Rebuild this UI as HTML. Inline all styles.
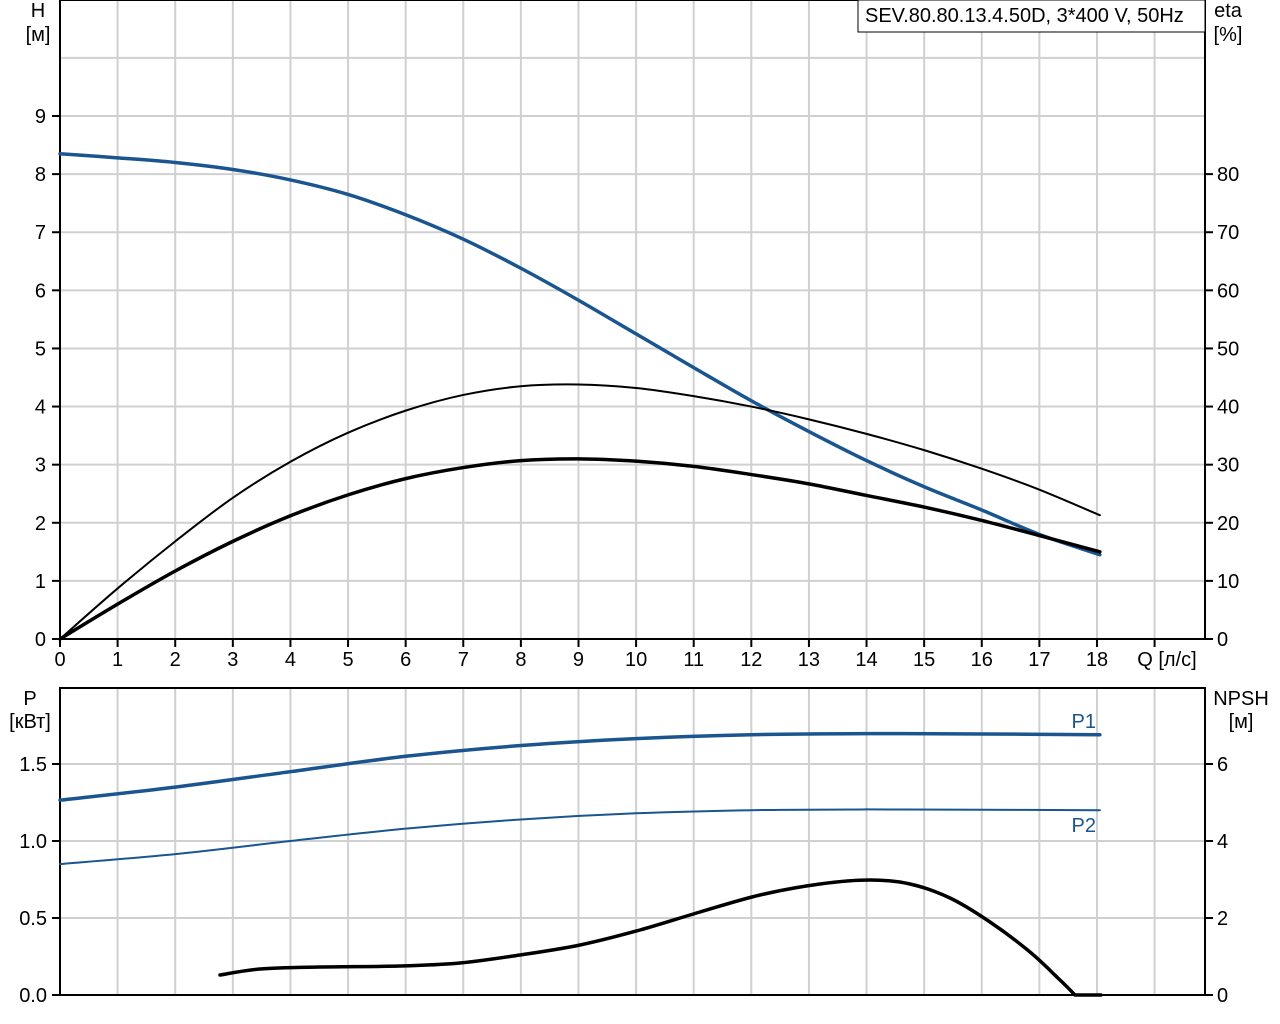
<!DOCTYPE html>
<html><head><meta charset="utf-8"><style>
html,body{margin:0;padding:0;background:#fff;}
svg{display:block;font-family:"Liberation Sans",Arial,sans-serif;}
</style></head><body>
<svg id="s" width="1280" height="1024" viewBox="0 0 1280 1024" xmlns="http://www.w3.org/2000/svg">
<g id="grid" stroke="#d0d0d0" stroke-width="2" fill="none"></g>
<g id="axes" stroke="#000" stroke-width="2" fill="none">
<rect x="60" y="0" width="1145" height="639"/>
<rect x="60" y="688" width="1145" height="307"/>
</g>
<g id="ticks" stroke="#000" stroke-width="2"></g>
<g id="labels" font-size="20" fill="#000"></g>
<g id="curves" fill="none" stroke-linecap="round" stroke-linejoin="round"></g>
<rect x="858" y="0" width="347" height="32" fill="#fff" stroke="#000" stroke-width="1"/>
<text x="865" y="22" font-size="20">SEV.80.80.13.4.50D, 3*400 V, 50Hz</text>
<text x="38" y="17" font-size="20" text-anchor="middle">H</text>
<text x="38" y="41" font-size="20" text-anchor="middle">[м]</text>
<text x="1228" y="17" font-size="20" text-anchor="middle">eta</text>
<text x="1228" y="41" font-size="20" text-anchor="middle">[%]</text>
<text x="30" y="705" font-size="20" text-anchor="middle">P</text>
<text x="30" y="728" font-size="20" text-anchor="middle">[кВт]</text>
<text x="1241" y="705" font-size="20" text-anchor="middle">NPSH</text>
<text x="1241" y="728" font-size="20" text-anchor="middle">[м]</text>
<text x="1167" y="666" font-size="20" text-anchor="middle">Q [л/с]</text>
<text x="1096" y="728" font-size="20" fill="#1a5590" text-anchor="end">P1</text>
<text x="1096" y="832" font-size="20" fill="#1a5590" text-anchor="end">P2</text>
</svg>
<script>
const NS="http://www.w3.org/2000/svg";
function el(p,t,a,txt){const e=document.createElementNS(NS,t);for(const k in a)e.setAttribute(k,a[k]);if(txt!==undefined)e.textContent=txt;document.getElementById(p).appendChild(e);return e;}
const X=q=>60+q*57.61, HY=h=>639-h*58.11, PY=p=>995-p*154;
for(let q=1;q<=19;q++){el('grid','line',{x1:X(q),y1:0,x2:X(q),y2:639});el('grid','line',{x1:X(q),y1:688,x2:X(q),y2:995});}
for(let h=1;h<=10;h++)el('grid','line',{x1:60,y1:HY(h),x2:1205,y2:HY(h)});
for(let p=0.5;p<=1.5;p+=0.5)el('grid','line',{x1:60,y1:PY(p),x2:1205,y2:PY(p)});
for(let q=0;q<=19;q++){el('ticks','line',{x1:X(q),y1:639,x2:X(q),y2:647});if(q<=18)el('labels','text',{x:X(q),y:666,'text-anchor':'middle'},q);}
for(let h=0;h<=9;h++){el('ticks','line',{x1:52,y1:HY(h),x2:60,y2:HY(h)});el('labels','text',{x:46,y:HY(h)+7,'text-anchor':'end'},h);}
for(let e=0;e<=8;e++){el('ticks','line',{x1:1205,y1:HY(e),x2:1213,y2:HY(e)});el('labels','text',{x:1217,y:HY(e)+7},e*10);}
[["0.0",0],["0.5",.5],["1.0",1],["1.5",1.5]].forEach(([t,p])=>{el('ticks','line',{x1:52,y1:PY(p),x2:60,y2:PY(p)});el('labels','text',{x:47,y:PY(p)+7,'text-anchor':'end'},t);});
[0,2,4,6].forEach((n,i)=>{const y=PY(i*0.5);el('ticks','line',{x1:1205,y1:y,x2:1213,y2:y});el('labels','text',{x:1217,y:y+7},n);});
function path(pts){let d="M"+pts[0][0]+","+pts[0][1];for(let i=0;i<pts.length-1;i++){const p0=pts[Math.max(i-1,0)],p1=pts[i],p2=pts[i+1],p3=pts[Math.min(i+2,pts.length-1)];const c1=[p1[0]+(p2[0]-p0[0])/6,p1[1]+(p2[1]-p0[1])/6],c2=[p2[0]-(p3[0]-p1[0])/6,p2[1]-(p3[1]-p1[1])/6];d+=` C${c1[0]},${c1[1]} ${c2[0]},${c2[1]} ${p2[0]},${p2[1]}`;}return d;}
function curve(data,fy,stroke,w){el('curves','path',{d:path(data.map(([q,v])=>[X(q),fy(v)])),stroke:stroke,'stroke-width':w});}
const blue="#1a5590";
curve([[0,8.35],[1,8.28],[2,8.2],[3,8.08],[4,7.9],[5,7.65],[6,7.3],[7,6.88],[8,6.38],[9,5.83],[10,5.25],[11,4.67],[12,4.1],[13,3.57],[14,3.07],[15,2.62],[16,2.22],[17,1.8],[18.05,1.45]],HY,blue,3.5);
curve([[0,0],[1,0.87],[2,1.68],[3,2.43],[4,3.05],[5,3.55],[6,3.93],[7,4.2],[8,4.35],[9,4.38],[10,4.32],[11,4.18],[12,4.0],[13,3.78],[14,3.53],[15,3.25],[16,2.93],[17,2.57],[18.05,2.13]],HY,"#000",2);
curve([[0,0],[1,0.6],[2,1.17],[3,1.68],[4,2.12],[5,2.48],[6,2.76],[7,2.95],[8,3.07],[9,3.1],[10,3.06],[11,2.97],[12,2.83],[13,2.67],[14,2.47],[15,2.27],[16,2.04],[17,1.78],[18.05,1.5]],HY,"#000",3.5);
curve([[0,1.265],[2,1.35],[4,1.45],[6,1.55],[8,1.62],[10,1.665],[12,1.69],[14,1.697],[16,1.695],[18.05,1.69]],PY,blue,3.5);
curve([[0,0.85],[2,0.915],[4,1.0],[6,1.08],[8,1.14],[10,1.18],[12,1.2],[14,1.205],[16,1.203],[18.05,1.2]],PY,blue,2);
el('curves','path',{d:path([[220,975],[260,969],[320,967],[400,966],[460,963],[520,955],[580,945],[640,930],[700,912],[760,895],[820,884],[870,880],[910,884],[950,898],[990,922],[1030,952],[1060,980],[1075,995]])+" L1101,995",stroke:"#000",'stroke-width':3.5});
</script>
</body></html>
